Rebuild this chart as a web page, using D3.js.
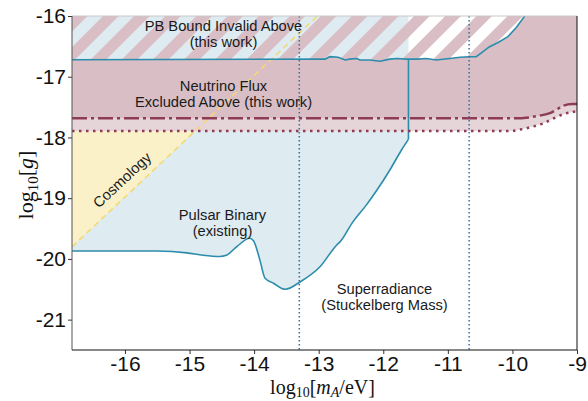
<!DOCTYPE html>
<html>
<head>
<meta charset="utf-8">
<script src="https://cdn.jsdelivr.net/npm/d3@7"></script>
<style>
  body { margin: 0; background: #fff; }
  svg { display: block; }
</style>
</head>
<body>
<div id="chart"></div>
<script>
// axis ticks
const xTicks = [-16, -15, -14, -13, -12, -11, -10, -9];
const yTicks = [-16, -17, -18, -19, -20, -21];

// pulsar binary (existing) lower bound
const pulsarX = [-16.82, -15.5, -15.04, -14.79, -14.53, -14.43, -14.27, -14.07, -14.01, -13.91, -13.83, -13.70, -13.52, -13.29, -12.98, -12.72, -12.67, -12.47, -12.26, -12.10, -11.90, -11.72, -11.61];
const pulsarY = [-19.87, -19.87, -19.90, -19.94, -19.96, -19.94, -19.80, -19.66, -19.70, -20.02, -20.32, -20.40, -20.50, -20.38, -20.13, -19.77, -19.72, -19.39, -19.11, -18.87, -18.54, -18.21, -18.03];

// PB bound invalid above (this work)
const pbTopX = [-16.82, -12.90, -12.83, -12.70, -12.59, -12.52, -12.41, -12.36, -12.21, -12.05, -11.90, -11.79, -11.64, -11.48, -11.33, -11.18, -10.97, -10.81, -10.66, -10.56, -10.46, -10.36, -10.23, -10.07, -9.94, -9.81];
const pbTopY = [-16.72, -16.71, -16.67, -16.68, -16.725, -16.71, -16.70, -16.725, -16.725, -16.745, -16.71, -16.70, -16.71, -16.71, -16.70, -16.725, -16.70, -16.68, -16.67, -16.67, -16.59, -16.51, -16.44, -16.34, -16.19, -16.0];

// neutrino flux excluded above (this work): dash-dot and dotted bounds
const nuX = [-16.82, -10.3, -9.96, -9.75, -9.58, -9.42, -9.30, -9.22, -9.07, -9.0];
const nuY = [-17.685, -17.685, -17.685, -17.67, -17.64, -17.60, -17.53, -17.48, -17.45, -17.45];
const nu2X = [-16.82, -10.2, -9.99, -9.88, -9.68, -9.53, -9.37, -9.22, -9.07, -9.0];
const nu2Y = [-17.895, -17.895, -17.89, -17.87, -17.82, -17.77, -17.69, -17.62, -17.58, -17.57];

// cosmology boundary
const cosmoX = [-16.82, -13.02];
const cosmoY = [-19.80, -16.0];

// superradiance (Stuckelberg mass) limits
const superX = [-13.30, -10.67];

const width = 588, height = 401;
const margin = { top: 16, right: 11, bottom: 51, left: 72 };
const W = width - margin.left - margin.right;
const H = height - margin.top - margin.bottom;

const svg = d3.select("#chart").append("svg")
    .attr("width", width)
    .attr("height", height);

const defs = svg.append("defs");
const g = svg.append("g").attr("transform", `translate(${margin.left},${margin.top})`);

const x = d3.scaleLinear().domain([-16.82, -9]).range([0, W]);
const y = d3.scaleLinear().domain([-21.5, -16]).range([H, 0]);

const zip = (xs, ys) => xs.map((v, i) => ({ x: v, y: ys[i] }));
const pulsar = zip(pulsarX, pulsarY);
const pbTop = zip(pbTopX, pbTopY);
const nu = zip(nuX, nuY);
const nu2 = zip(nu2X, nu2Y);

defs.append("clipPath").attr("id", "plot")
    .append("rect").attr("width", W).attr("height", H);

// hatch for the band above the PB bound
const pat = defs.append("pattern")
    .attr("id", "hatch")
    .attr("patternUnits", "userSpaceOnUse")
    .attr("width", 22).attr("height", 22)
    .attr("patternTransform", "rotate(45)");
pat.append("rect").attr("width", 11).attr("height", 22).attr("fill", "#d9bfc5");

const topY = y(-16);
const areaTop = d3.area().x(d => x(d.x)).y0(d => y(d.y)).y1(topY);
const pulsarArea = d3.area().curve(d3.curveMonotoneX).x(d => x(d.x)).y0(d => y(d.y)).y1(topY);

defs.append("clipPath").attr("id", "band")
    .append("path").attr("d", areaTop(pbTop));

const plot = g.append("g").attr("clip-path", "url(#plot)");

// pulsar binary fill
plot.append("path").attr("d", pulsarArea(pulsar)).attr("fill", "#deebf0");

// cosmology fill (below the neutrino bound)
const cosmoAt = d3.scaleLinear().domain(cosmoY).range(cosmoX);
const yCut = nu2Y[0];
plot.append("path")
    .attr("d", d3.line()([
        [x(cosmoX[0]), y(cosmoY[0])],
        [x(cosmoAt(yCut)), y(yCut)],
        [x(cosmoX[0]), y(yCut)]
    ]) + "Z")
    .attr("fill", "#faf1c9");

// neutrino flux excluded fills
plot.append("path").attr("d", areaTop(nu2)).attr("fill", "#e5d4d8");
plot.append("path").attr("d", areaTop(nu)).attr("fill", "#d9bfc5");

// PB invalid band: white, blue part, hatch
plot.append("path").attr("d", areaTop(pbTop)).attr("fill", "#fff");
plot.append("path").attr("d", pulsarArea(pulsar)).attr("fill", "#deebf0").attr("clip-path", "url(#band)");
plot.append("path").attr("d", areaTop(pbTop)).attr("fill", "url(#hatch)");

// cosmology dashed line
plot.append("line")
    .attr("x1", x(cosmoX[0])).attr("y1", y(cosmoY[0]))
    .attr("x2", x(cosmoX[1])).attr("y2", y(cosmoY[1]))
    .attr("stroke", "#f5d86f").attr("stroke-width", 1.5)
    .attr("stroke-dasharray", "6,4");

// teal lines
const teal = "#2b8cab";
plot.append("path")
    .attr("d", d3.line().curve(d3.curveMonotoneX).x(d => x(d.x)).y(d => y(d.y))(pulsar))
    .attr("fill", "none").attr("stroke", teal).attr("stroke-width", 1.6);
const last = pulsar[pulsar.length - 1];
plot.append("line")
    .attr("x1", x(last.x)).attr("x2", x(last.x))
    .attr("y1", y(last.y)).attr("y2", y(d3.scaleLinear().domain(pbTopX).range(pbTopY)(last.x)))
    .attr("stroke", teal).attr("stroke-width", 1.6);
plot.append("path")
    .attr("d", d3.line().x(d => x(d.x)).y(d => y(d.y))(pbTop))
    .attr("fill", "none").attr("stroke", teal).attr("stroke-width", 1.6);

// neutrino bound lines
const maroon = "#8e3b55";
const lineFn = d3.line().curve(d3.curveMonotoneX).x(d => x(d.x)).y(d => y(d.y));
plot.append("path").attr("d", lineFn(nu))
    .attr("fill", "none").attr("stroke", maroon).attr("stroke-width", 2.5)
    .attr("stroke-dasharray", "15,4,3,4");
plot.append("path").attr("d", lineFn(nu2))
    .attr("fill", "none").attr("stroke", maroon).attr("stroke-width", 2.5)
    .attr("stroke-dasharray", "2.5,4.5");

// superradiance dotted verticals
plot.selectAll(".sr").data(superX).enter().append("line")
    .attr("x1", d => x(d)).attr("x2", d => x(d))
    .attr("y1", 0).attr("y2", H)
    .attr("stroke", "#3271a0").attr("stroke-width", 1.5)
    .attr("stroke-dasharray", "1.5,2.5");

// annotations
const ann = g.append("g")
    .attr("font-family", "'Liberation Sans', Arial, sans-serif")
    .attr("font-size", 14.7)
    .attr("fill", "#1a1a1a")
    .attr("text-anchor", "middle");
const label = (cx, lines, y0, step) => lines.forEach((t, i) =>
    ann.append("text").attr("x", cx).attr("y", y0 + i * step).text(t));
label(151.5, ["PB Bound Invalid Above", "(this work)"], 15, 15.5);
label(151.5, ["Neutrino Flux", "Excluded Above (this work)"], 75, 15.5);
label(150.5, ["Pulsar Binary", "(existing)"], 204, 15.5);
label(312.5, ["Superradiance", "(Stuckelberg Mass)"], 278, 16);
ann.append("text")
    .attr("transform", "translate(50,164) rotate(-43)")
    .attr("dy", "0.35em")
    .text("Cosmology");

// axes
const xAxis = g.append("g")
    .attr("transform", `translate(0,${H})`)
    .call(d3.axisBottom(x).tickValues(xTicks).tickSize(4).tickPadding(2).tickFormat(d => String(d)));
const yAxis = g.append("g")
    .call(d3.axisLeft(y).tickValues(yTicks).tickSize(4).tickPadding(2).tickFormat(d => String(d)));
[xAxis, yAxis].forEach(a => {
    a.selectAll("text")
        .attr("font-family", "'Liberation Sans', Arial, sans-serif")
        .attr("font-size", 21).attr("fill", "#111");
    a.selectAll(".tick line").attr("stroke", "#333");
    a.select(".domain").remove();
});

// frame
g.append("line").attr("x1", 0).attr("x2", W).attr("y1", 0).attr("y2", 0).attr("stroke", "#c8c8c8");
g.append("line").attr("x1", 0).attr("x2", 0).attr("y1", 0).attr("y2", H).attr("stroke", "#555");
g.append("line").attr("x1", W).attr("x2", W).attr("y1", 0).attr("y2", H).attr("stroke", "#111");
g.append("line").attr("x1", 0).attr("x2", W).attr("y1", H).attr("y2", H).attr("stroke", "#111");

// axis titles
const serif = "'Liberation Serif', 'Times New Roman', serif";
const xt = svg.append("text")
    .attr("x", margin.left + W / 2 - 2).attr("y", 394)
    .attr("text-anchor", "middle")
    .attr("font-family", serif).attr("font-size", 20).attr("fill", "#111");
xt.append("tspan").text("log");
xt.append("tspan").attr("font-size", 14).attr("dy", 3).text("10");
xt.append("tspan").attr("dy", -3).text("[");
xt.append("tspan").attr("font-style", "italic").text("m");
xt.append("tspan").attr("font-style", "italic").attr("font-size", 14).attr("dy", 3).text("A");
xt.append("tspan").attr("dy", -3).text("/eV]");

const yt = svg.append("text")
    .attr("transform", `translate(33,${margin.top + H / 2 + 2}) rotate(-90)`)
    .attr("text-anchor", "middle")
    .attr("font-family", serif).attr("font-size", 22).attr("fill", "#111");
yt.append("tspan").text("log");
yt.append("tspan").attr("font-size", 15).attr("dy", 5).text("10");
yt.append("tspan").attr("dy", -5).text("[");
yt.append("tspan").attr("font-style", "italic").text("g");
yt.append("tspan").text("]");
</script>
</body>
</html>
